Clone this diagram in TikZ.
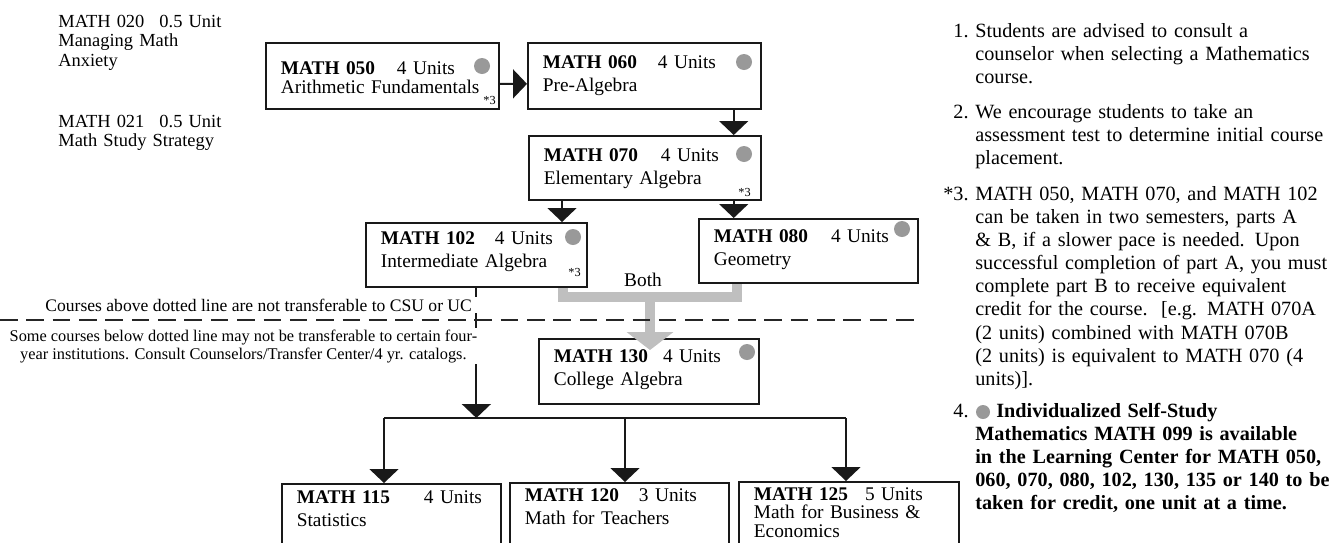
\documentclass[tikz,border=0pt]{standalone}
\usepackage{fontspec}
\setmainfont{Liberation Serif}
\usetikzlibrary{arrows.meta, positioning, calc}

\begin{document}
\begin{tikzpicture}[x=0.02cm, y=-0.02cm,
    course/.style={draw=black!90, line width=1pt, anchor=north west, align=left, inner xsep=0.3cm, inner ysep=0pt, font=\fontsize{11}{13}\selectfont},
    lowcourse/.style={course, text height=0.38cm, text depth=1.3cm},
    dot/.style={circle, fill=black!40, inner sep=0pt, minimum size=0.32cm},
    star/.style={anchor=west, inner sep=0pt, font=\fontsize{7}{8}\selectfont},
    side/.style={anchor=base west, align=left, text width=4cm, inner sep=0pt, font=\fontsize{10.5}{11.3}\selectfont},
    remark/.style={align=center, fill=white, inner xsep=2pt, inner ysep=1pt, font=\fontsize{9.3}{10}\selectfont},
    advice/.style={anchor=base west, align=left, text width=7.1cm, inner sep=0pt, font=\fontsize{11.5}{13.2}\selectfont},
    conn/.style={draw=black!90, line width=1pt, -{Triangle[width=0.58cm,length=0.28cm]}},
    bus/.style={draw=black!90, line width=1pt},
    both/.style={draw=black!25, line width=0.2cm},
    divider/.style={draw=black!85, line width=1pt, dash pattern=on 10pt off 5pt}
]
    \useasboundingbox (0,0) rectangle (1331,542);

    % short courses
    \node[side] (m020) at (58,27) {MATH 020\hspace{0.3cm}0.5 Unit\\Managing Math\\Anxiety};
    \node[side] (m021) at (58,127) {MATH 021\hspace{0.3cm}0.5 Unit\\Math Study Strategy};

    % course boxes
    \node[course, text width=4.06cm, text height=0.64cm, text depth=0.68cm, font=\fontsize{11}{10.8}\selectfont] (m050) at (265,42) {\textbf{MATH 050}\hspace{0.44cm}4 Units\\Arithmetic Fundamentals};
    \node[course, text width=4.06cm, text height=0.52cm, text depth=0.8cm] (m060) at (527,42) {\textbf{MATH 060}\hspace{0.42cm}4 Units\\Pre-Algebra};
    \node[course, text width=4.04cm, text height=0.52cm, text depth=0.76cm] (m070) at (528,135) {\textbf{MATH 070}\hspace{0.46cm}4 Units\\Elementary Algebra};
    \node[course, text width=3.82cm, text height=0.44cm, text depth=0.84cm] (m102) at (365,222) {\textbf{MATH 102}\hspace{0.40cm}4 Units\\Intermediate Algebra};
    \node[course, text width=3.78cm, text height=0.48cm, text depth=0.8cm] (m080) at (698,218) {\textbf{MATH 080}\hspace{0.46cm}4 Units\\Geometry};
    \node[course, text width=3.80cm, text height=0.48cm, text depth=0.82cm] (m130) at (538,338) {\textbf{MATH 130}\hspace{0.30cm}4 Units\\College Algebra};
    \node[lowcourse, text width=3.78cm, text height=0.40cm] (m115) at (281,483) {\textbf{MATH 115}\hspace{0.68cm}4 Units\\Statistics};
    \node[lowcourse, text width=3.78cm] (m120) at (509,482) {\textbf{MATH 120}\hspace{0.40cm}3 Units\\Math for Teachers};
    \node[lowcourse, text width=3.80cm, font=\fontsize{11}{10.3}\selectfont] (m125) at (738,481) {\textbf{MATH 125}\hspace{0.34cm}5 Units\\Math for Business \&\\Economics};

    % self-study dots and split-course marks
    \node[dot] (d050) at (482,66) {};
    \node[dot] (d060) at (744,62) {};
    \node[dot] (d070) at (744,154) {};
    \node[dot] (d102) at (573,237) {};
    \node[dot] (d080) at (902,229) {};
    \node[dot] (d130) at (747,352) {};
    \node[star] (s050) at (483,100) {*3};
    \node[star] (s070) at (738,192) {*3};
    \node[star] (s102) at (568,272) {*3};

    % sequence arrows
    \coordinate (t070) at ($(m060.south east)+(-28,0)$);
    \coordinate (t102) at ($(m070.south west)+(34,0)$);
    \coordinate (t080) at ($(m070.south east)+(-28,0)$);
    \draw[conn] ([yshift=-0.16cm]m050.east) -- ([yshift=-0.16cm]m060.west);
    \draw[conn] (t070) -- (t070 |- m070.north);
    \draw[conn] (t102) -- (t102 |- m102.north);
    \draw[conn] (t080) -- (t080 |- m080.north);

    % transfer-level branch
    \coordinate (hub) at (m102.south |- 0,418);
    \coordinate (busL) at (384,418);
    \coordinate (busM) at (625,418);
    \coordinate (busR) at (846,418);
    \draw[conn] (m102.south) -- (hub);
    \draw[bus] (busL) -- (busR);
    \draw[conn] (busL) -- (busL |- m115.north);
    \draw[conn] (busM) -- (busM |- m120.north);
    \draw[conn] (busR) -- (busR |- m125.north);

    % both 102 and 080 lead to 130
    \coordinate (bothjoin) at (650,297);
    \draw[both] ($(m102.south)+(87,0)$) |- (bothjoin) -| ($(m080.south)+(-71,0)$);
    \draw[both, -{Triangle[width=0.92cm,length=0.36cm]}] (bothjoin) -- ($(bothjoin |- m130.north)+(0,12)$);
    \node[font=\fontsize{11}{13}\selectfont] (bothlbl) at (643,280) {Both};

    % transfer line
    \coordinate (divL) at (0,320);
    \coordinate (divR) at (920,320);
    \draw[divider] (divL) -- (divR);
    \node[remark, anchor=east, font=\fontsize{10}{11}\selectfont, inner xsep=5pt] (above) at (481,305) {Courses above dotted line are not transferable to CSU or UC};
    \node[remark, anchor=north east] (below) at (481,328) {Some courses below dotted line may not be transferable to certain four-\\year institutions. Consult Counselors/Transfer Center/4 yr. catalogs.};

    % footnotes
    \node[advice] (tip1) at (975,37) {\noindent\llap{1.~}Students are advised to consult a\\counselor when selecting a Mathematics\\course.};
    \node[advice] (tip2) at (975,118) {\noindent\llap{2.~}We encourage students to take an\\assessment test to determine initial course\\placement.};
    \node[advice] (tip3) at (975,200) {\noindent\llap{*3.~}MATH 050, MATH 070, and MATH 102\\can be taken in two semesters, parts A\\\& B, if a slower pace is needed. Upon\\successful completion of part A, you must\\complete part B to receive equivalent\\credit for the course.\ \ [e.g. MATH 070A\\(2 units) combined with MATH 070B\\(2 units) is equivalent to MATH 070 (4\\units)].};
    \node[advice] (tip4) at (975,417) {\noindent\llap{4.~}\hspace{0.42cm}\textbf{Individualized Self-Study}\\\textbf{Mathematics MATH 099 is available}\\\textbf{in the Learning Center for MATH 050,}\\\textbf{060, 070, 080, 102, 130, 135 or 140 to be}\\\textbf{taken for credit, one unit at a time.}};
    \node[dot, minimum size=0.28cm] (d4) at (983,412) {};
\end{tikzpicture}
\end{document}
